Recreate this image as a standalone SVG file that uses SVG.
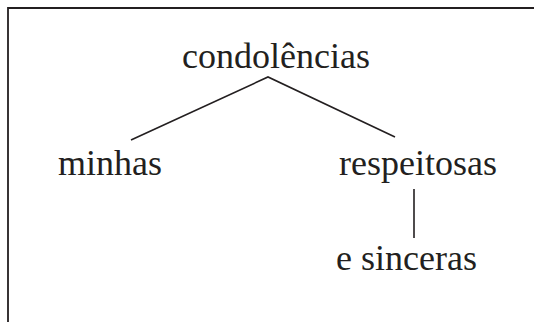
<svg xmlns="http://www.w3.org/2000/svg" width="534" height="322" viewBox="0 0 534 322">
<style>
.t{font-family:"Liberation Serif","Times New Roman",serif;font-size:36px;fill:#231f20}
.e{stroke:#231f20;stroke-width:1.6;fill:none}
.f{stroke:#231f20;stroke-width:1.8;fill:none}
</style>
<rect width="534" height="322" fill="#fff"/>
<g id="frame"><path class="f" d="M8 322V8H534"/></g>
<g id="connectors">
<path class="e" d="M131 140L268 77L395 137"/>
<path class="e" d="M414 189V238"/>
</g>
<g id="n-condolencias"><text class="t" x="182" y="68">condolências</text></g>
<g id="n-minhas"><text class="t" x="58" y="175">minhas</text></g>
<g id="n-respeitosas"><text class="t" x="339" y="175">respeitosas</text></g>
<g id="n-sinceras"><text class="t" x="336" y="270">e sinceras</text></g>
</svg>
